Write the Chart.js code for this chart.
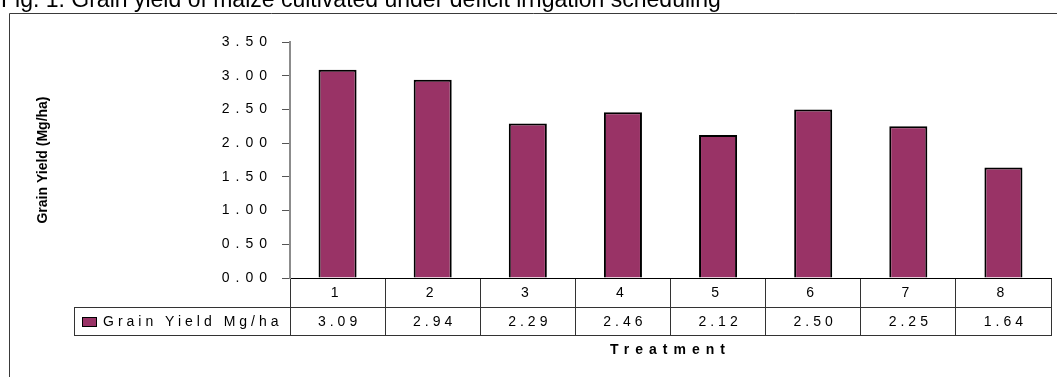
<!DOCTYPE html>
<html>
<head>
<meta charset="utf-8">
<title>Grain yield of maize under deficit irrigation scheduling</title>
<script src="https://cdn.jsdelivr.net/npm/chart.js@4"></script>
<style>
  html, body { margin: 0; padding: 0; background: #fff; overflow: hidden; }
  #wrap { width: 1057px; height: 377px; position: relative; }
  canvas { display: block; }
</style>
</head>
<body>
<div id="wrap"><canvas id="chart" width="1057" height="377"></canvas></div>
<script>
// ---- data ----
const treatments = ['1', '2', '3', '4', '5', '6', '7', '8'];
const grainYield = [3.09, 2.94, 2.29, 2.46, 2.12, 2.50, 2.25, 1.64];
const yAxisTicks = [0, 0.5, 1.0, 1.5, 2.0, 2.5, 3.0, 3.5];
const seriesName = 'Grain Yield Mg/ha';
const yAxisName = 'Grain Yield (Mg/ha)';
const xAxisName = 'Treatment';
const figureCaption = 'Fig. 1. Grain yield of maize cultivated under deficit irrigation scheduling';

const FONT = "'Liberation Sans', Arial, Helvetica, sans-serif";
const BAR_FILL = '#993366';
const LINE = '#333333';

// Caption, outer frame and the data table under the category axis
const dataTablePlugin = {
  id: 'dataTable',
  beforeDraw(chart) {
    const ctx = chart.ctx;
    ctx.letterSpacing = '0px';
    ctx.save();
    ctx.fillStyle = '#ffffff';
    ctx.fillRect(0, 0, chart.width, chart.height);

    ctx.font = `23px ${FONT}`;
    ctx.fillStyle = '#000';
    ctx.textAlign = 'left';
    ctx.textBaseline = 'alphabetic';
    ctx.fillText(figureCaption, 1, 7);

    ctx.strokeStyle = '#3a3a3a';
    ctx.lineWidth = 1;
    ctx.beginPath();
    ctx.moveTo(9.5, chart.height + 2);
    ctx.lineTo(9.5, 13.5);
    ctx.lineTo(chart.width + 2, 13.5);
    ctx.stroke();
    ctx.restore();

    // wide character spacing for axis tick labels and the category axis title
    ctx.letterSpacing = '6px';
  },
  beforeDatasetsDraw(chart) {
    chart.ctx.letterSpacing = '0px';
  },
  afterDraw(chart) {
    const ctx = chart.ctx;
    const xs = chart.scales.x;
    const ds = chart.data.datasets[0];
    const axisY = Math.round(xs.top);
    const rowTop = axisY + 29;
    const rowBottom = axisY + 57;
    const legendLeft = 74;
    const right = Math.round(xs.right);

    ctx.save();
    ctx.letterSpacing = '0px';
    ctx.strokeStyle = LINE;
    ctx.lineWidth = 1;
    ctx.beginPath();
    ctx.moveTo(legendLeft, rowTop + 0.5);
    ctx.lineTo(right + 1, rowTop + 0.5);
    ctx.moveTo(legendLeft, rowBottom + 0.5);
    ctx.lineTo(right + 1, rowBottom + 0.5);
    ctx.moveTo(legendLeft + 0.5, rowTop);
    ctx.lineTo(legendLeft + 0.5, rowBottom + 1);
    ctx.stroke();

    const midY = (rowTop + rowBottom) / 2 + 1;

    // legend key
    ctx.fillStyle = ds.backgroundColor;
    ctx.fillRect(82, midY - 5, 15, 10);
    ctx.strokeStyle = '#000';
    ctx.strokeRect(82.5, midY - 4.5, 14, 9);

    ctx.letterSpacing = '4px';
    ctx.fillStyle = '#000';
    ctx.font = `14px ${FONT}`;
    ctx.textBaseline = 'middle';
    ctx.textAlign = 'left';
    ctx.fillText(ds.label, 103, midY);

    // values row
    ctx.textAlign = 'center';
    ds.data.forEach((v, i) => {
      const cx = xs.getPixelForValue(i);
      ctx.fillText(v.toFixed(2), cx + 2, midY);
    });
    ctx.restore();
    ctx.letterSpacing = '0px';
  }
};

const chart = new Chart(document.getElementById('chart'), {
  type: 'bar',
  data: {
    labels: treatments,
    datasets: [{
      label: seriesName,
      data: grainYield,
      backgroundColor: BAR_FILL,
      borderColor: '#000',
      borderWidth: 2,
      barPercentage: 0.4,
      categoryPercentage: 1.0
    }]
  },
  options: {
    responsive: false,
    animation: false,
    devicePixelRatio: 1,
    layout: { padding: { top: 42, right: 6, bottom: 0, left: 0 } },
    plugins: {
      legend: { display: false },
      title: { display: false },
      tooltip: { enabled: false }
    },
    scales: {
      y: {
        min: 0,
        max: 3.5,
        afterBuildTicks: (scale) => { scale.ticks = yAxisTicks.map(v => ({ value: v })); },
        afterFit: (scale) => { scale.width = 290; },
        ticks: {
          callback: (v) => Number(v).toFixed(2),
          color: '#000',
          font: { family: FONT, size: 14 },
          padding: 9
        },
        grid: {
          drawOnChartArea: false,
          drawTicks: true,
          tickLength: 8,
          color: '#555',
          z: 1
        },
        border: { display: true, color: '#8c8c8c', width: 2, z: 1 },
        title: {
          display: true,
          text: yAxisName,
          color: '#000',
          font: { family: FONT, size: 14, weight: 'bold' },
          padding: { top: 35, bottom: 0 }
        }
      },
      x: {
        afterFit: (scale) => { scale.height = 99; },
        ticks: {
          color: '#000',
          font: { family: FONT, size: 14 },
          padding: -50,
          maxRotation: 0
        },
        grid: {
          offset: true,
          drawOnChartArea: false,
          drawTicks: true,
          tickLength: 57,
          color: LINE,
          lineWidth: 1
        },
        border: { display: true, color: '#000', width: 1 },
        title: {
          display: true,
          text: xAxisName,
          color: '#000',
          font: { family: FONT, size: 14, weight: 'bold' },
          padding: { top: 0, bottom: 18 }
        }
      }
    }
  },
  plugins: [dataTablePlugin]
});
</script>
</body>
</html>
